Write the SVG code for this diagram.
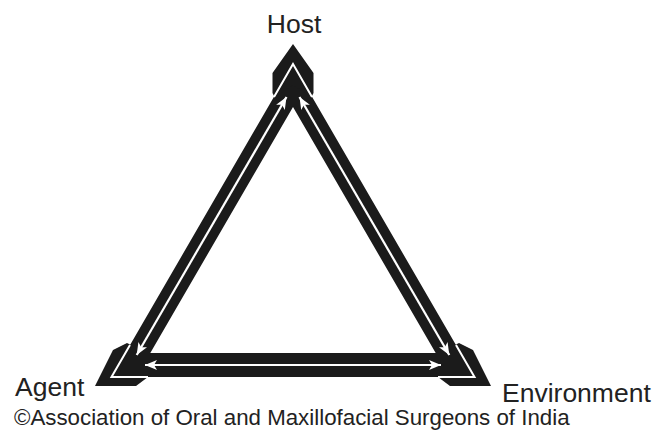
<svg xmlns="http://www.w3.org/2000/svg" width="668" height="431" viewBox="0 0 668 431">
<style>
.blk{fill:#1b1b1b}
.gap{fill:none;stroke:#fff;stroke-width:2;stroke-linejoin:miter}
.ln{stroke:#fff;stroke-width:2.2;fill:none}
text{font-family:"Liberation Sans",Arial,sans-serif;fill:#222}
.lbl{font-size:26.5px}
.cap{font-size:22.3px}
</style>
<defs>
<marker id="ah" viewBox="0 0 12 10" refX="12" refY="5" markerWidth="12" markerHeight="10" markerUnits="userSpaceOnUse" orient="auto-start-reverse">
<path d="M0,0 L12,5 L0,10 L3,5z" fill="#fff"/>
</marker>
</defs>
<g id="triangle">
<path class="blk" fill-rule="evenodd" d="M293,64 L111.5,377 L474.5,377 Z M293,107 L150.3,353 L435.7,353 Z"/>
</g>
<g id="host-cap">
<polygon class="blk" points="293,44 313.5,73 313.5,93 311.5,97 293,85 274.5,97 272.5,93 272.5,73"/>
<polyline class="gap" points="274,97 293,64 312,97"/>
</g>
<g id="agent-cap">
<polygon class="blk" points="95,386 113,350 127,343 131,345 120,372 150,372 148,377 136,386"/>
<polyline class="gap" points="130,345 111.5,377 148,377"/>
</g>
<g id="environment-cap">
<polygon class="blk" points="491,386 473,350 459,343 455,345 466,372 436,372 438,377 450,386"/>
<polyline class="gap" points="456,345 474.5,377 438,377"/>
</g>
<g id="connectors">
<line class="ln" x1="286.5" y1="97" x2="136.7" y2="355" marker-start="url(#ah)" marker-end="url(#ah)"/>
<line class="ln" x1="299.5" y1="97" x2="449.3" y2="355" marker-start="url(#ah)" marker-end="url(#ah)"/>
<line class="ln" x1="145" y1="365" x2="441" y2="365" marker-start="url(#ah)" marker-end="url(#ah)"/>
</g>
<g id="host"><text class="lbl" x="294" y="33" text-anchor="middle">Host</text></g>
<g id="agent"><text class="lbl" x="15" y="396">Agent</text></g>
<g id="environment"><text class="lbl" x="502" y="401.5">Environment</text></g>
<text class="cap" x="14" y="425">©Association of Oral and Maxillofacial Surgeons of India</text>
</svg>
